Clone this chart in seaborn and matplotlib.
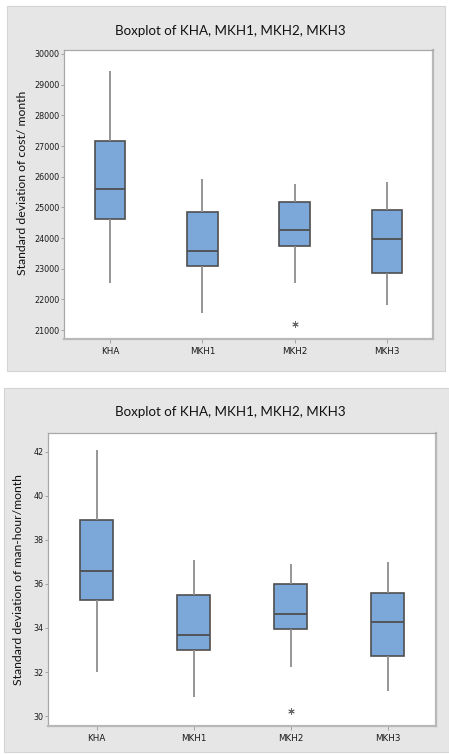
import seaborn as sns
import matplotlib.pyplot as plt
import matplotlib.patches as patches
import pandas as pd

groups = ['KHA', 'MKH1', 'MKH2', 'MKH3']
title = 'Boxplot of KHA, MKH1, MKH2, MKH3'

# std dev of cost/month - five number summaries
cost_low = [22520, 21570, 22540, 21810]
cost_q1 = [24630, 23090, 23750, 22870]
cost_median = [25600, 23570, 24250, 23960]
cost_q3 = [27180, 24840, 25180, 24900]
cost_high = [29430, 25930, 25770, 25820]
cost_out_group = ['MKH2']
cost_out = [21190]
cost_ticks = list(range(21000, 30001, 1000))

# std dev of man-hour/month
hour_low = [32.0, 30.85, 32.25, 31.15]
hour_q1 = [35.25, 33.0, 33.95, 32.75]
hour_median = [36.6, 33.7, 34.65, 34.25]
hour_q3 = [38.9, 35.5, 36.0, 35.6]
hour_high = [42.1, 37.1, 36.9, 37.0]
hour_out_group = ['MKH2']
hour_out = [30.25]
hour_ticks = list(range(30, 43, 2))

LABEL_FONT = 'Lato'
TITLE_FONT = 'Lato'
TICK_FONT = 'DejaVu Sans'
BOX_BLUE = '#7BA7D9'
EDGE = '#4f4f4f'
WHISK = '#8e8e8e'


def to_frame(low, q1, med, q3, high):
    # five points per group give exactly these quartiles
    rows = []
    for i, g in enumerate(groups):
        for v in (low[i], q1[i], med[i], q3[i], high[i]):
            rows.append({'group': g, 'value': v})
    return pd.DataFrame(rows)


def draw_panel(ax, df, out_group, out_vals, ylabel, ticks, ylim, label_xy):
    sns.boxplot(data=df, x='group', y='value', order=groups, ax=ax,
                color=BOX_BLUE, saturation=1, width=0.33, whis=(0, 100),
                showcaps=False, showfliers=False, linecolor=EDGE, linewidth=1.2,
                whiskerprops={'color': WHISK, 'linewidth': 1.3},
                medianprops={'color': EDGE, 'linewidth': 1.3})
    # outliers as minitab style asterisks
    sns.stripplot(x=out_group, y=out_vals, order=groups, ax=ax, jitter=False,
                  marker=(6, 2, 0), size=4, color='#666666', linewidth=0.7)
    ax.set_xlim(-0.5, 3.5)
    ax.set_ylim(*ylim)
    ax.set_yticks(ticks)
    ax.set_xlabel('')
    ax.set_ylabel(ylabel, fontsize=8.8, fontfamily=LABEL_FONT, color='#111111')
    ax.yaxis.set_label_coords(*label_xy)
    ax.set_facecolor('white')
    for s in ['left', 'top']:
        ax.spines[s].set_color('#a8a8a8')
        ax.spines[s].set_linewidth(0.9)
    for s in ['right', 'bottom']:
        ax.spines[s].set_color('#b8b8b8')
        ax.spines[s].set_linewidth(1.6)
    ax.tick_params(axis='y', length=2, width=0.6, color='#999999', labelsize=5.8, pad=1.2,
                   labelcolor='#1a1a1a', left=True)
    ax.tick_params(axis='x', length=3, width=0.6, color='#999999', labelsize=6.3, pad=3,
                   labelcolor='#1a1a1a', bottom=True)
    for lab in ax.get_xticklabels() + ax.get_yticklabels():
        lab.set_fontfamily(TICK_FONT)
    ax.grid(False)


sns.set_theme(style='white')
plt.rcParams['font.family'] = [LABEL_FONT, 'DejaVu Sans']

W, H = 449, 755
fig = plt.figure(figsize=(W / 100, H / 100), dpi=100)
fig.patch.set_facecolor('white')

# grey panel backgrounds (pixel boxes converted to figure fractions)
for x0, y0, x1, y1 in [(7, 6, 445, 371), (4, 388, 449, 752)]:
    fig.patches.append(patches.Rectangle((x0 / W, 1 - y1 / H), (x1 - x0) / W, (y1 - y0) / H,
                                         transform=fig.transFigure, facecolor='#e6e6e6',
                                         edgecolor='#d4d4d4', linewidth=0.8, zorder=-5))

ax1 = fig.add_axes([64 / W, 1 - 339 / H, 369 / W, 289 / H])
draw_panel(ax1, to_frame(cost_low, cost_q1, cost_median, cost_q3, cost_high),
           cost_out_group, cost_out, 'Standard deviation of cost/ month',
           cost_ticks, (20710, 30130), (-0.098, 0.54))

ax2 = fig.add_axes([48 / W, 1 - 726 / H, 388 / W, 293 / H])
draw_panel(ax2, to_frame(hour_low, hour_q1, hour_median, hour_q3, hour_high),
           hour_out_group, hour_out, 'Standard deviation of man-hour/month',
           hour_ticks, (29.55, 42.85), (-0.062, 0.5))

fig.text(230 / W, 1 - 35 / H, title, ha='center', va='baseline', fontsize=9.6,
         fontfamily=TITLE_FONT, color='#111111')
fig.text(230 / W, 1 - 416 / H, title, ha='center', va='baseline', fontsize=9.6,
         fontfamily=TITLE_FONT, color='#111111')

fig.savefig('out.png', dpi=100)
